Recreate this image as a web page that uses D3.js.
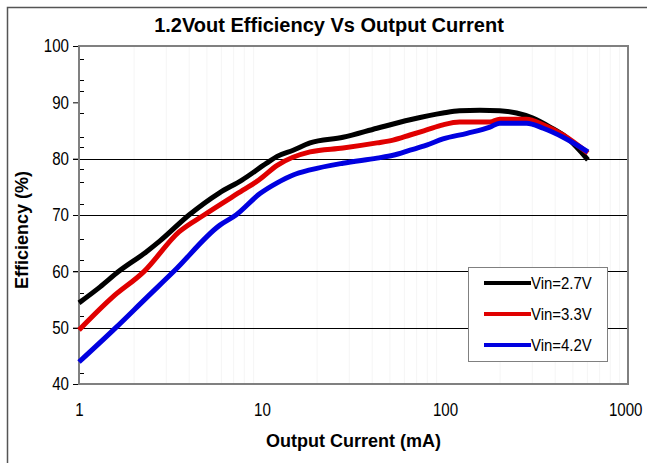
<!DOCTYPE html>
<html>
<head>
<meta charset="utf-8">
<script src="https://cdn.jsdelivr.net/npm/d3@7"></script>
<style>
  body { margin: 0; background: #fff; }
  text { font-family: "Liberation Sans", Arial, sans-serif; }
</style>
</head>
<body>
<svg width="647" height="463"></svg>
<script>
// series data (current in mA, efficiency in %)
let current27 = [1, 1.3, 1.65, 2.32, 2.77, 3.99, 5.83, 7.77, 10.6, 12.1, 14.8, 18.3, 27.7, 42.5, 64.4, 97.5, 120, 155, 199, 246, 302, 375, 464, 604];
let eff27 =     [54.4, 57.2, 60.0, 63.4, 65.4, 70.0, 73.9, 76.2, 79.2, 80.4, 81.5, 82.8, 83.8, 85.4, 86.9, 88.1, 88.5, 88.6, 88.5, 88.1, 87.2, 85.6, 83.7, 79.8];

let current33 = [1, 1.51, 2.27, 3.52, 4.82, 7.86, 9.61, 12.1, 18.3, 27.7, 42.5, 52, 64.4, 79.3, 97.5, 120, 176, 199, 279, 344, 442, 604];
let eff33 =     [49.6, 55.3, 60.0, 67.0, 70.0, 74.4, 76.2, 78.8, 81.2, 81.9, 82.8, 83.3, 84.2, 85.1, 86.0, 86.5, 86.5, 87.0, 87.0, 86.0, 84.2, 81.0];

let current42 = [1, 1.59, 2.32, 3.30, 5.89, 7.21, 9.75, 12.1, 14.8, 18.3, 27.7, 42.5, 52, 64.4, 79.3, 97.5, 132, 176, 199, 279, 344, 442, 604];
let eff42 =     [43.9, 50.0, 55.2, 60.0, 68.2, 70.0, 73.8, 75.7, 77.1, 78.0, 79.2, 80.1, 80.6, 81.5, 82.4, 83.5, 84.5, 85.6, 86.3, 86.3, 85.4, 83.8, 81.2];

let seriesNames = ["Vin=2.7V", "Vin=3.3V", "Vin=4.2V"];
let seriesColors = ["#000000", "#e00000", "#0000e0"];

let xTicks = [1, 10, 100, 1000];
let yTicks = [40, 50, 60, 70, 80, 90, 100];
let yGrid = [50, 60, 70, 80];
let yMinorTicks = [42, 52.1, 56.2, 62, 65.8, 72, 75.9, 78.2, 82.1, 83.8, 88.1, 92, 94, 97.7];

let svg = d3.select("svg");
let width = parseInt(svg.attr("width"));
let height = parseInt(svg.attr("height"));

let plot = { left: 79, right: 628, top: 46, bottom: 384 };

let x = d3.scaleLog().domain([1, 1000]).range([plot.left, plot.right]);
let y = d3.scaleLinear().domain([40, 100]).range([plot.bottom, plot.top]);

// narrow-looking labels: squeeze the glyphs to the reference width
function narrow(sel, perChar) {
    sel.attr("lengthAdjust", "spacingAndGlyphs")
        .attr("textLength", function () { return this.textContent.length * perChar; });
}

// outer frame
svg.append("path")
    .attr("d", "M7.5," + height + "V7.5H" + width)
    .attr("fill", "none")
    .attr("stroke", "#555")
    .attr("stroke-width", 1.5);

// faint log minor grid
let minors = [];
[1, 10, 100].forEach(function (d) {
    for (let k = 2; k <= 9; k++) minors.push(d * k);
});
svg.append("g").selectAll("line")
    .data(minors)
    .enter()
    .append("line")
    .attr("x1", function (d) { return x(d); })
    .attr("x2", function (d) { return x(d); })
    .attr("y1", plot.top)
    .attr("y2", plot.bottom)
    .attr("stroke", "#f5f5f5")
    .attr("stroke-width", 1);

// horizontal grid lines
svg.append("g").selectAll("line")
    .data(yGrid)
    .enter()
    .append("line")
    .attr("x1", plot.left - 6)
    .attr("x2", plot.right)
    .attr("y1", function (d) { return Math.round(y(d)) + 0.5; })
    .attr("y2", function (d) { return Math.round(y(d)) + 0.5; })
    .attr("stroke", "#000")
    .attr("stroke-width", 1.2);

// y axis ticks and labels
let yAxis = d3.axisLeft(y).tickValues(yTicks).tickSize(6).tickPadding(4);
let yg = svg.append("g").attr("transform", "translate(" + plot.left + ",0)").call(yAxis);
yg.select(".domain").remove();
yg.selectAll("text").attr("font-size", 18).attr("fill", "#000")
    .style("font-family", "'Liberation Sans', Arial, sans-serif")
    .call(narrow, 8.4);
yg.selectAll("line").attr("stroke", "#000");

// inner minor ticks
svg.append("g").selectAll("line")
    .data(yMinorTicks)
    .enter()
    .append("line")
    .attr("x1", plot.left)
    .attr("x2", plot.left + 5)
    .attr("y1", function (d) { return Math.round(y(d)) + 0.5; })
    .attr("y2", function (d) { return Math.round(y(d)) + 0.5; })
    .attr("stroke", "#000");

// x axis labels
let xAxis = d3.axisBottom(x).tickValues(xTicks).tickFormat(d3.format("d")).tickSize(0).tickPadding(19);
let xg = svg.append("g").attr("transform", "translate(0," + plot.bottom + ")").call(xAxis);
xg.select(".domain").remove();
xg.selectAll("text").attr("font-size", 18).attr("fill", "#000")
    .style("font-family", "'Liberation Sans', Arial, sans-serif")
    .call(narrow, 8.4);
// keep the last label inside the picture
xg.selectAll("text").filter(function (d) { return d === 1000; })
    .attr("text-anchor", "end")
    .attr("x", 14);

// plot border
svg.append("rect")
    .attr("x", plot.left)
    .attr("y", plot.top)
    .attr("width", plot.right - plot.left)
    .attr("height", plot.bottom - plot.top)
    .attr("fill", "none")
    .attr("stroke", "#808080")
    .attr("stroke-width", 2);

// curves
let series = [
    d3.zip(current27, eff27),
    d3.zip(current33, eff33),
    d3.zip(current42, eff42)
];

let line = d3.line()
    .x(function (d) { return x(d[0]); })
    .y(function (d) { return y(d[1]); })
    .curve(d3.curveMonotoneX);

svg.append("g").selectAll("path")
    .data(series)
    .enter()
    .append("path")
    .attr("d", line)
    .attr("fill", "none")
    .attr("stroke", function (d, i) { return seriesColors[i]; })
    .attr("stroke-width", 5)
    .attr("stroke-linejoin", "round");

// legend
let legend = svg.append("g").attr("transform", "translate(468,267)");
legend.append("rect")
    .attr("x", 0.5).attr("y", 0.5)
    .attr("width", 139).attr("height", 94)
    .attr("fill", "#fff")
    .attr("stroke", "#808080");
let items = legend.selectAll("g.item")
    .data(seriesNames)
    .enter()
    .append("g")
    .attr("class", "item")
    .attr("transform", function (d, i) { return "translate(0," + (16 + i * 31) + ")"; });
items.append("line")
    .attr("x1", 16).attr("x2", 63)
    .attr("stroke", function (d, i) { return seriesColors[i]; })
    .attr("stroke-width", 4);
items.append("text")
    .attr("x", 63)
    .attr("dy", "0.36em")
    .attr("font-size", 17)
    .text(function (d) { return d; })
    .call(narrow, 7.6);

// title and axis titles
svg.append("text")
    .attr("x", 329).attr("y", 32)
    .attr("text-anchor", "middle")
    .attr("font-size", 20)
    .attr("font-weight", "bold")
    .text("1.2Vout Efficiency Vs Output Current");

svg.append("text")
    .attr("x", (plot.left + plot.right) / 2).attr("y", 447)
    .attr("text-anchor", "middle")
    .attr("font-size", 18)
    .attr("font-weight", "bold")
    .text("Output Current (mA)");

svg.append("text")
    .attr("transform", "translate(28,230) rotate(-90)")
    .attr("text-anchor", "middle")
    .attr("font-size", 18)
    .attr("font-weight", "bold")
    .text("Efficiency (%)");
</script>
</body>
</html>
